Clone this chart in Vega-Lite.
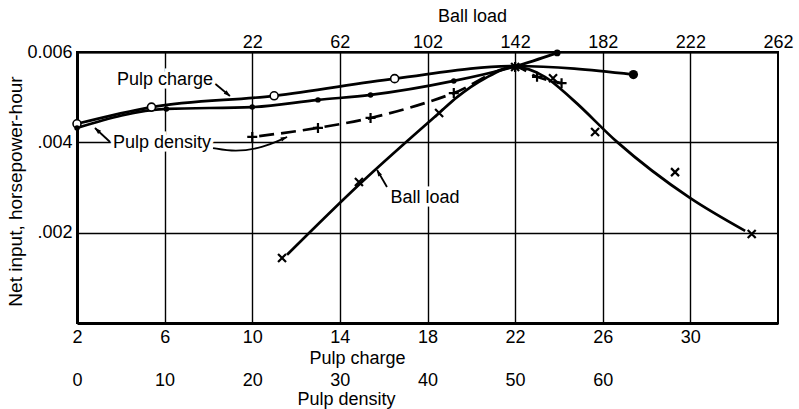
{
  "$schema": "https://vega.github.io/schema/vega-lite/v6.json",
  "width": 701,
  "height": 271,
  "autosize": "none",
  "padding": {"left": 77, "top": 52, "right": 21, "bottom": 86},
  "background": "white",
  "config": {
    "font": "Liberation Sans",
    "view": {"stroke": "black", "strokeWidth": 2},
    "axis": {
      "labelFont": "Liberation Sans",
      "labelFontSize": 18,
      "labelColor": "black",
      "titleFont": "Liberation Sans",
      "titleFontSize": 18,
      "titleFontWeight": "normal",
      "titleColor": "black",
      "ticks": false,
      "gridColor": "black",
      "gridOpacity": 1,
      "gridWidth": 1.4,
      "domainColor": "black",
      "labelFlush": false,
      "labelOverlap": false
    }
  },
  "datasets": {
    "pulpCharge": [
      {"charge": 2, "hp": 0.00441},
      {"charge": 5.4, "hp": 0.00478},
      {"charge": 11, "hp": 0.00503},
      {"charge": 16.5, "hp": 0.00541},
      {"charge": 22, "hp": 0.00569},
      {"charge": 27.4, "hp": 0.0055}
    ],
    "densityDots": [
      {"density": 0, "hp": 0.00432},
      {"density": 10.2, "hp": 0.00474},
      {"density": 20, "hp": 0.00478},
      {"density": 27.5, "hp": 0.00494},
      {"density": 33.5, "hp": 0.00505},
      {"density": 43, "hp": 0.00536},
      {"density": 50, "hp": 0.00568},
      {"density": 54.8, "hp": 0.00598}
    ],
    "densityPlus": [
      {"density": 20, "hp": 0.00412},
      {"density": 27.5, "hp": 0.00432},
      {"density": 33.5, "hp": 0.00454},
      {"density": 43, "hp": 0.00509},
      {"density": 50, "hp": 0.00567},
      {"density": 52.5, "hp": 0.00545},
      {"density": 55.3, "hp": 0.00531}
    ],
    "ballTests": [
      {"ball": 35.6, "hp": 0.00144},
      {"ball": 70.7, "hp": 0.00312},
      {"ball": 107.3, "hp": 0.00465},
      {"ball": 142, "hp": 0.00567},
      {"ball": 159.3, "hp": 0.00542},
      {"ball": 178.5, "hp": 0.00423},
      {"ball": 215, "hp": 0.00334},
      {"ball": 250, "hp": 0.00197}
    ],
    "ballCurve": [
      {"ball": 37.9, "hp": 0.00151},
      {"ball": 70.7, "hp": 0.00306},
      {"ball": 107.3, "hp": 0.00465},
      {"ball": 115.5, "hp": 0.005},
      {"ball": 128.3, "hp": 0.00542},
      {"ball": 142, "hp": 0.00567},
      {"ball": 155.6, "hp": 0.00545},
      {"ball": 168.4, "hp": 0.00494},
      {"ball": 188.5, "hp": 0.00401},
      {"ball": 221.8, "hp": 0.00277},
      {"ball": 247, "hp": 0.00204}
    ],
    "labels": [
      {"charge": 6.02, "hp": 0.005269, "label": "Pulp charge"},
      {"charge": 5.88, "hp": 0.003874, "label": "Pulp density"},
      {"charge": 17.89, "hp": 0.002657, "label": "Ball load"}
    ],
    "leaders": [
      {"id": "charge", "seq": 0, "charge": 8.21, "hp": 0.005336},
      {"id": "charge", "seq": 1, "charge": 8.98, "hp": 0.005026},
      {"id": "densityLeft", "seq": 0, "charge": 3.51, "hp": 0.004007},
      {"id": "densityLeft", "seq": 1, "charge": 2.82, "hp": 0.004317},
      {"id": "densityRight", "seq": 0, "charge": 8.21, "hp": 0.003874},
      {"id": "densityRight", "seq": 1, "charge": 9.21, "hp": 0.003786},
      {"id": "densityRight", "seq": 2, "charge": 10.45, "hp": 0.003874},
      {"id": "densityRight", "seq": 3, "charge": 11.59, "hp": 0.004118},
      {"id": "ball", "seq": 0, "charge": 16.15, "hp": 0.003011},
      {"id": "ball", "seq": 1, "charge": 15.7, "hp": 0.003387}
    ],
    "arrowheads": [
      {"charge": 8.88, "hp": 0.005068, "dir": 129},
      {"charge": 2.92, "hp": 0.004273, "dir": 313},
      {"charge": 11.46, "hp": 0.004091, "dir": 66},
      {"charge": 15.76, "hp": 0.00333, "dir": 330}
    ]
  },
  "resolve": {"scale": {"x": "independent"}, "axis": {"x": "independent"}},
  "layer": [
    {
      "data": {"name": "pulpCharge"},
      "mark": {"type": "line", "interpolate": "monotone", "color": "black", "strokeWidth": 2.7},
      "encoding": {
        "x": {
          "field": "charge", "type": "quantitative",
          "scale": {"domain": [2, 34], "nice": false, "zero": false},
          "axis": {
            "orient": "bottom", "values": [2, 6, 10, 14, 18, 22, 26, 30],
            "grid": true, "domain": true, "domainWidth": 3, "labelPadding": 5,
            "title": "Pulp charge", "titleX": 280, "titleY": 40, "titleBaseline": "alphabetic"
          }
        },
        "y": {
          "field": "hp", "type": "quantitative",
          "scale": {"domain": [0, 0.006], "nice": false},
          "axis": {
            "values": [0.002, 0.004, 0.006], "grid": true, "domain": true, "domainWidth": 3,
            "labelPadding": 5,
            "labelExpr": "datum.value > 0.005 ? format(datum.value, '.3f') : replace(format(datum.value, '.3f'), '0.', '.')",
            "title": "Net input, horsepower-hour", "titleFontSize": 19,
            "titleX": -56, "titleY": 139, "titleBaseline": "alphabetic"
          }
        }
      }
    },
    {
      "data": {"name": "densityDots"},
      "mark": {"type": "line", "interpolate": "monotone", "color": "black", "strokeWidth": 2.7},
      "encoding": {
        "x": {
          "field": "density", "type": "quantitative",
          "scale": {"domain": [0, 80], "nice": false, "zero": false},
          "axis": {
            "orient": "bottom", "offset": 43, "values": [0, 10, 20, 30, 40, 50, 60],
            "grid": false, "domain": false, "labelPadding": 5,
            "title": "Pulp density", "titleX": 269, "titleY": 38, "titleBaseline": "alphabetic"
          }
        },
        "y": {"field": "hp", "type": "quantitative"}
      }
    },
    {
      "data": {"name": "ballCurve"},
      "mark": {"type": "line", "interpolate": "monotone", "color": "black", "strokeWidth": 2.7},
      "encoding": {
        "x": {
          "field": "ball", "type": "quantitative",
          "scale": {"domain": [-58, 262], "nice": false, "zero": false},
          "axis": {
            "orient": "top", "values": [22, 62, 102, 142, 182, 222, 262],
            "grid": false, "domain": true, "domainWidth": 2, "labelPadding": 1,
            "title": "Ball load", "titleX": 395, "titleY": -31, "titleBaseline": "alphabetic"
          }
        },
        "y": {"field": "hp", "type": "quantitative"}
      }
    },
    {
      "data": {"name": "densityPlus"},
      "mark": {"type": "line", "interpolate": "monotone", "color": "black", "strokeWidth": 2.7, "strokeDash": [15, 7], "strokeDashOffset": -7},
      "encoding": {
        "x": {"field": "density", "type": "quantitative", "scale": {"domain": [0, 80], "nice": false, "zero": false}, "axis": null},
        "y": {"field": "hp", "type": "quantitative"}
      }
    },
    {
      "data": {"name": "pulpCharge"},
      "transform": [{"filter": "datum.charge < 20"}],
      "mark": {"type": "point", "shape": "circle", "size": 64, "filled": true, "fill": "white", "stroke": "black", "strokeWidth": 1.6, "opacity": 1},
      "encoding": {
        "x": {"field": "charge", "type": "quantitative", "scale": {"domain": [2, 34], "nice": false, "zero": false}, "axis": null},
        "y": {"field": "hp", "type": "quantitative"}
      }
    },
    {
      "data": {"name": "pulpCharge"},
      "transform": [{"filter": "datum.charge > 25"}],
      "mark": {"type": "point", "shape": "circle", "size": 85, "filled": true, "color": "black", "opacity": 1},
      "encoding": {
        "x": {"field": "charge", "type": "quantitative", "scale": {"domain": [2, 34], "nice": false, "zero": false}, "axis": null},
        "y": {"field": "hp", "type": "quantitative"}
      }
    },
    {
      "data": {"name": "densityDots"},
      "transform": [{"filter": "datum.density < 54"}],
      "mark": {"type": "point", "shape": "circle", "size": 30, "filled": true, "color": "black", "opacity": 1},
      "encoding": {
        "x": {"field": "density", "type": "quantitative", "scale": {"domain": [0, 80], "nice": false, "zero": false}, "axis": null},
        "y": {"field": "hp", "type": "quantitative"}
      }
    },
    {
      "data": {"name": "densityDots"},
      "transform": [{"filter": "datum.density > 54"}],
      "mark": {"type": "point", "shape": "circle", "size": 45, "filled": true, "color": "black", "opacity": 1},
      "encoding": {
        "x": {"field": "density", "type": "quantitative", "scale": {"domain": [0, 80], "nice": false, "zero": false}, "axis": null},
        "y": {"field": "hp", "type": "quantitative"}
      }
    },
    {
      "data": {"name": "densityPlus"},
      "mark": {"type": "point", "shape": "M-1,0H1M0,-1V1", "size": 100, "filled": false, "color": "black", "strokeWidth": 2.2, "opacity": 1},
      "encoding": {
        "x": {"field": "density", "type": "quantitative", "scale": {"domain": [0, 80], "nice": false, "zero": false}, "axis": null},
        "y": {"field": "hp", "type": "quantitative"}
      }
    },
    {
      "data": {"name": "ballTests"},
      "mark": {"type": "point", "shape": "M-1,-1L1,1M-1,1L1,-1", "size": 64, "filled": false, "color": "black", "strokeWidth": 2.2, "opacity": 1},
      "encoding": {
        "x": {"field": "ball", "type": "quantitative", "scale": {"domain": [-58, 262], "nice": false, "zero": false}, "axis": null},
        "y": {"field": "hp", "type": "quantitative"}
      }
    },
    {
      "data": {"name": "leaders"},
      "mark": {"type": "line", "interpolate": "basis", "color": "black", "strokeWidth": 1.8},
      "encoding": {
        "x": {"field": "charge", "type": "quantitative", "scale": {"domain": [2, 34], "nice": false, "zero": false}, "axis": null},
        "y": {"field": "hp", "type": "quantitative"},
        "detail": {"field": "id"},
        "order": {"field": "seq", "type": "quantitative"}
      }
    },
    {
      "data": {"name": "arrowheads"},
      "mark": {"type": "point", "shape": "M0,-1L0.65,1L-0.65,1Z", "size": 45, "filled": true, "color": "black", "opacity": 1},
      "encoding": {
        "x": {"field": "charge", "type": "quantitative", "scale": {"domain": [2, 34], "nice": false, "zero": false}, "axis": null},
        "y": {"field": "hp", "type": "quantitative"},
        "angle": {"field": "dir", "type": "quantitative", "scale": null}
      }
    },
    {
      "data": {"name": "labels"},
      "mark": {"type": "text", "font": "Liberation Sans", "fontSize": 18, "align": "center", "baseline": "alphabetic", "stroke": "white", "strokeWidth": 7, "fill": "white"},
      "encoding": {
        "x": {"field": "charge", "type": "quantitative", "scale": {"domain": [2, 34], "nice": false, "zero": false}, "axis": null},
        "y": {"field": "hp", "type": "quantitative"},
        "text": {"field": "label"}
      }
    },
    {
      "data": {"name": "labels"},
      "mark": {"type": "text", "font": "Liberation Sans", "fontSize": 18, "align": "center", "baseline": "alphabetic", "color": "black"},
      "encoding": {
        "x": {"field": "charge", "type": "quantitative", "scale": {"domain": [2, 34], "nice": false, "zero": false}, "axis": null},
        "y": {"field": "hp", "type": "quantitative"},
        "text": {"field": "label"}
      }
    }
  ]
}
